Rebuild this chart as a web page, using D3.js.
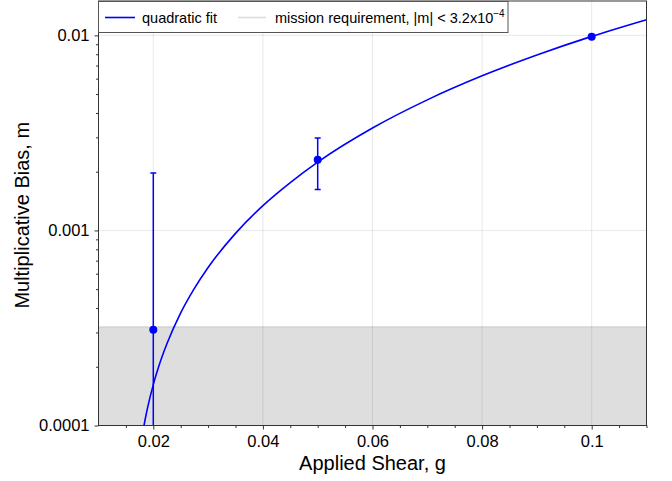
<!DOCTYPE html>
<html>
<head>
<meta charset="utf-8">
<script src="https://cdn.jsdelivr.net/npm/d3@7"></script>
<style>
  html, body { margin: 0; padding: 0; background: #fff; }
  svg { display: block; font-family: "Liberation Sans", Arial, Helvetica, sans-serif; }
</style>
</head>
<body>
<svg id="chart" width="672" height="481"></svg>
<script>
// ---- data ----
const shear = [0.02, 0.05, 0.1];
const bias = [3.1e-4, 2.3e-3, 9.85e-3];
const biasErr = [1.66e-3, 6.8e-4, 2.0e-4];

// quadratic fit curve
const fitShear = [0.018, 0.0185, 0.019, 0.02, 0.021, 0.0225, 0.025, 0.0275, 0.03, 0.035, 0.04, 0.045, 0.05, 0.06, 0.07, 0.08, 0.09, 0.1, 0.11];
const fitBias  = [9.0e-5, 1.07e-4, 1.25e-4, 1.62e-4, 2.01e-4, 2.63e-4, 3.78e-4, 5.05e-4, 6.46e-4, 9.66e-4, 1.34e-3, 1.76e-3, 2.24e-3, 3.35e-3, 4.67e-3, 6.2e-3, 7.93e-3, 9.88e-3, 1.203e-2];

const requirement = 3.2e-4;

const xTicks = [0.02, 0.04, 0.06, 0.08, 0.1];
const xTickLabels = ["0.02", "0.04", "0.06", "0.08", "0.1"];
const yTicks = [0.0001, 0.001, 0.01];
const yTickLabels = ["0.0001", "0.001", "0.01"];
const xDomain = [0.01, 0.11];
const yDomain = [1e-4, 0.015];

const xTitle = "Applied Shear, g";
const yTitle = "Multiplicative Bias, m";
const legendFit = "quadratic fit";
const legendReq = "mission requirement, |m| < 3.2x10";
const legendReqExp = "\u22124";

// ---- layout ----
const svg = d3.select("#chart");
const L = 98.5, R = 646.5, T = 1, B = 425.5;
const x = d3.scaleLinear().domain(xDomain).range([L, R]);
const y = d3.scaleLog().domain(yDomain).range([B, T]);
const blue = "#0000ff";
const axisColor = "#333";

svg.append("defs").append("clipPath").attr("id", "clip")
  .append("rect").attr("x", L).attr("y", T).attr("width", R - L).attr("height", B - T);

const plot = svg.append("g").attr("clip-path", "url(#clip)");

// shaded requirement region
plot.append("rect")
  .attr("x", L).attr("width", R - L)
  .attr("y", y(requirement)).attr("height", B - y(requirement))
  .attr("fill", "#dedede");
plot.append("line")
  .attr("x1", L).attr("x2", R)
  .attr("y1", y(requirement)).attr("y2", y(requirement))
  .attr("stroke", "#c8c8c8").attr("stroke-width", 1);

// grid
plot.append("g").selectAll("line").data(xTicks).join("line")
  .attr("x1", d => x(d)).attr("x2", d => x(d))
  .attr("y1", T).attr("y2", B)
  .attr("stroke", "#000").attr("stroke-opacity", 0.09).attr("stroke-width", 1);
plot.append("g").selectAll("line").data(yTicks).join("line")
  .attr("x1", L).attr("x2", R)
  .attr("y1", d => y(d)).attr("y2", d => y(d))
  .attr("stroke", "#000").attr("stroke-opacity", 0.09).attr("stroke-width", 1);

// fit curve
const fitData = fitShear.map((g, i) => [g, fitBias[i]]);
plot.append("path")
  .datum(fitData)
  .attr("fill", "none").attr("stroke", blue).attr("stroke-width", 1.6)
  .attr("d", d3.line().x(d => x(d[0])).y(d => y(Math.max(d[1], 1e-6))).curve(d3.curveMonotoneX));

// error bars + points
const pts = shear.map((g, i) => ({ g, m: bias[i], e: biasErr[i] }));
const eb = plot.append("g");
pts.forEach(p => {
  const lo = p.m - p.e > 0 ? y(p.m - p.e) : B + 20;
  const hi = y(p.m + p.e);
  eb.append("line").attr("x1", x(p.g)).attr("x2", x(p.g)).attr("y1", lo).attr("y2", hi)
    .attr("stroke", blue).attr("stroke-width", 1.5);
  eb.append("line").attr("x1", x(p.g) - 3).attr("x2", x(p.g) + 3).attr("y1", hi).attr("y2", hi)
    .attr("stroke", blue).attr("stroke-width", 1.5);
  if (p.m - p.e > 0) {
    eb.append("line").attr("x1", x(p.g) - 3).attr("x2", x(p.g) + 3).attr("y1", lo).attr("y2", lo)
      .attr("stroke", blue).attr("stroke-width", 1.5);
  }
});
plot.append("g").selectAll("circle").data(pts).join("circle")
  .attr("cx", d => x(d.g)).attr("cy", d => y(d.m)).attr("r", 4)
  .attr("fill", blue);

// axes
const xMinor = d3.range(0.015, 0.1101, 0.005).filter(v => !xTicks.some(t => Math.abs(t - v) < 1e-9));
const yMinor = [];
[1e-4, 1e-3].forEach(dec => { for (let k = 2; k <= 9; k++) yMinor.push(dec * k); });

const xAxis = svg.append("g").attr("transform", `translate(0,${B})`)
  .call(d3.axisBottom(x).tickValues(xTicks).tickFormat((d, i) => xTickLabels[i]).tickSize(4).tickPadding(6));
const xAxisMinor = svg.append("g").attr("transform", `translate(0,${B})`)
  .call(d3.axisBottom(x).tickValues(xMinor).tickFormat("").tickSize(2.5));
const yAxis = svg.append("g").attr("transform", `translate(${L},0)`)
  .call(d3.axisLeft(y).tickValues(yTicks).tickFormat((d, i) => yTickLabels[i]).tickSize(4).tickPadding(5));
const yAxisMinor = svg.append("g").attr("transform", `translate(${L},0)`)
  .call(d3.axisLeft(y).tickValues(yMinor).tickFormat("").tickSize(2.5));

[xAxis, xAxisMinor, yAxis, yAxisMinor].forEach(a => {
  a.select(".domain").remove();
  a.selectAll("line").attr("stroke", axisColor);
  a.selectAll("text").attr("fill", "#000").attr("font-size", 16.5)
    .attr("font-family", "'Liberation Sans', Arial, sans-serif");
});

// frame
svg.append("rect").attr("x", L).attr("y", T).attr("width", R - L).attr("height", B - T)
  .attr("fill", "none").attr("stroke", axisColor).attr("stroke-width", 1);

// axis titles
svg.append("text").attr("x", (L + R) / 2).attr("y", 469.5).attr("text-anchor", "middle")
  .attr("font-size", 20).text(xTitle);
svg.append("text").attr("transform", `translate(28.5,${(T + B) / 2 + 2}) rotate(-90)`)
  .attr("text-anchor", "middle").attr("font-size", 20).text(yTitle);

// legend
const lg = svg.append("g");
lg.append("rect").attr("x", 98.5).attr("y", 1.5).attr("width", 409.5).attr("height", 31)
  .attr("fill", "#fff").attr("stroke", "#555").attr("stroke-width", 1);
lg.append("line").attr("x1", 105).attr("x2", 135).attr("y1", 17.5).attr("y2", 17.5)
  .attr("stroke", blue).attr("stroke-width", 1.6);
lg.append("text").attr("x", 142).attr("y", 22.5).attr("font-size", 14.5).text(legendFit);
lg.append("line").attr("x1", 238).attr("x2", 266).attr("y1", 17.5).attr("y2", 17.5)
  .attr("stroke", "#dcdcdc").attr("stroke-width", 1.6);
const t2 = lg.append("text").attr("x", 275).attr("y", 22.5).attr("font-size", 14.5);
t2.append("tspan").text(legendReq);
t2.append("tspan").attr("dy", -6).attr("font-size", 10).text(legendReqExp);
</script>
</body>
</html>
